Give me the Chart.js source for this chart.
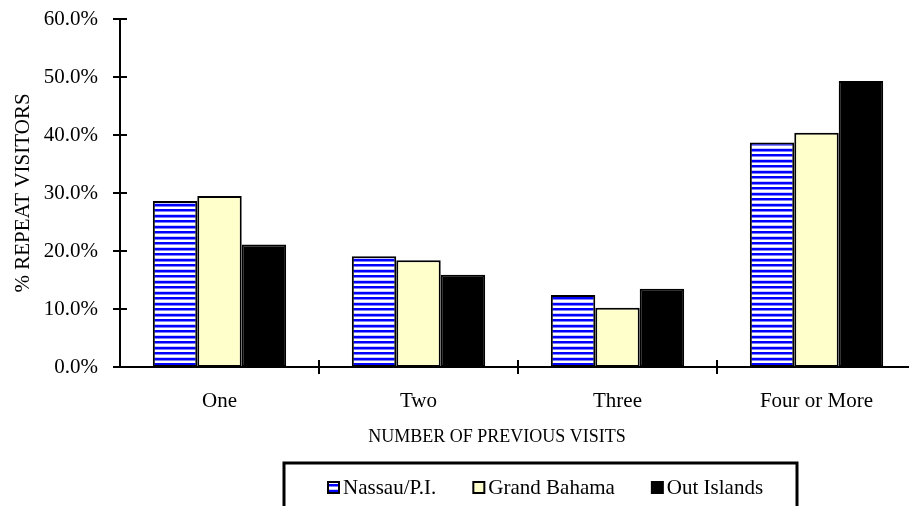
<!DOCTYPE html>
<html>
<head>
<meta charset="utf-8">
<script src="https://cdn.jsdelivr.net/npm/chart.js@4.4.1/dist/chart.umd.min.js"></script>
<style>
  html, body { margin: 0; padding: 0; background: #ffffff; overflow: hidden; }
  #wrap { width: 930px; height: 506px; }
</style>
</head>
<body>
<div id="wrap"><canvas id="chart" width="930" height="506"></canvas></div>
<script>
// Share of repeat visitors by number of previous visits, per island group (%)
const categories = ['One', 'Two', 'Three', 'Four or More'];
const nassau = [28.6, 19.1, 12.4, 38.7];
const grandBahama = [29.5, 18.4, 10.2, 40.4];
const outIslands = [21.1, 15.9, 13.5, 49.3];
const seriesNames = ['Nassau/P.I.', 'Grand Bahama', 'Out Islands'];
const yTicks = [0, 10, 20, 30, 40, 50, 60];
const xTitle = 'NUMBER OF PREVIOUS VISITS';
const yTitle = '% REPEAT VISITORS';

const FONT = "'Liberation Serif', 'Times New Roman', serif";

// Horizontal blue/white stripe fill
function stripePattern() {
  const c = document.createElement('canvas');
  c.width = 8; c.height = 11;
  const g = c.getContext('2d');
  const rows = ['#0000ff', '#0000ff', '#7f7fff', '#ffffff', '#ffffff', '#c8c8ff',
                '#0000ff', '#0000ff', '#7f7fff', '#ffffff', '#ffffff'];
  rows.forEach((col, i) => { g.fillStyle = col; g.fillRect(0, i, 8, 1); });
  return g.createPattern(c, 'repeat');
}
const stripes = stripePattern();

// Tick marks that cross both axis lines, plus the category axis title
const crossTicks = {
  id: 'crossTicks',
  afterDatasetsDraw(chart) {
    const { ctx, scales: { x, y } } = chart;
    ctx.save();
    ctx.strokeStyle = '#000';
    ctx.lineWidth = 2;
    ctx.beginPath();
    y.ticks.forEach(t => {
      const py = Math.round(y.getPixelForValue(t.value));
      ctx.moveTo(x.left - 7, py);
      ctx.lineTo(x.left + 7, py);
    });
    for (let i = 1; i < categories.length; i++) {
      const px = Math.round((x.getPixelForValue(i - 1) + x.getPixelForValue(i)) / 2);
      ctx.moveTo(px, y.bottom - 7);
      ctx.lineTo(px, y.bottom + 7);
    }
    ctx.stroke();
    ctx.fillStyle = '#000';
    ctx.font = '18px ' + FONT;
    ctx.textAlign = 'center';
    ctx.textBaseline = 'middle';
    ctx.fillText(xTitle, 497, 437);
    ctx.restore();
  }
};

// Framed legend below the axis title
const framedLegend = {
  id: 'framedLegend',
  afterDraw(chart) {
    const { ctx } = chart;
    ctx.save();
    ctx.strokeStyle = '#000';
    ctx.lineWidth = 3;
    ctx.strokeRect(284, 463, 513, 60);
    ctx.font = '21px ' + FONT;
    ctx.textBaseline = 'middle';
    ctx.textAlign = 'left';
    let x = 328;
    const cy = 487;
    chart.data.datasets.forEach(ds => {
      ctx.fillStyle = ds.backgroundColor;
      ctx.fillRect(x, cy - 5, 11, 11);
      ctx.lineWidth = 2;
      ctx.strokeRect(x, cy - 5, 11, 11);
      ctx.fillStyle = '#000';
      ctx.fillText(ds.label, x + 15, cy + 1);
      x += 15 + ctx.measureText(ds.label).width + 37;
    });
    ctx.restore();
  }
};

const barStyle = { borderColor: '#000000', borderWidth: 2, borderSkipped: false,
                   categoryPercentage: 0.67, barPercentage: 1.0 };

new Chart(document.getElementById('chart'), {
  type: 'bar',
  data: {
    labels: categories,
    datasets: [
      { label: seriesNames[0], data: nassau, backgroundColor: stripes, ...barStyle },
      { label: seriesNames[1], data: grandBahama, backgroundColor: '#ffffcc', ...barStyle },
      { label: seriesNames[2], data: outIslands, backgroundColor: '#000000', ...barStyle }
    ]
  },
  options: {
    responsive: false,
    animation: false,
    events: [],
    layout: { padding: { top: 19, left: 0, right: 14, bottom: 44 } },
    plugins: { legend: { display: false }, tooltip: { enabled: false } },
    scales: {
      x: {
        grid: { display: false, drawTicks: false },
        border: { display: true, color: '#000', width: 2 },
        ticks: { color: '#000', font: { family: FONT, size: 21 }, padding: 22, maxRotation: 0 },
        afterFit(s) { s.height = 95; }
      },
      y: {
        min: 0, max: 60,
        afterBuildTicks(s) { s.ticks = yTicks.map(v => ({ value: v })); },
        grid: { display: false, drawTicks: false },
        border: { display: true, color: '#000', width: 2 },
        ticks: { color: '#000', font: { family: FONT, size: 21 }, padding: 22,
                 callback: v => v.toFixed(1) + '%' },
        title: { display: true, text: yTitle, color: '#000',
                 font: { family: FONT, size: 21 }, padding: { top: 11, bottom: 0 } },
        afterFit(s) { s.width = 120; s.paddingTop = 0; s.paddingBottom = 0; }
      }
    }
  },
  plugins: [crossTicks, framedLegend]
});
</script>
</body>
</html>
